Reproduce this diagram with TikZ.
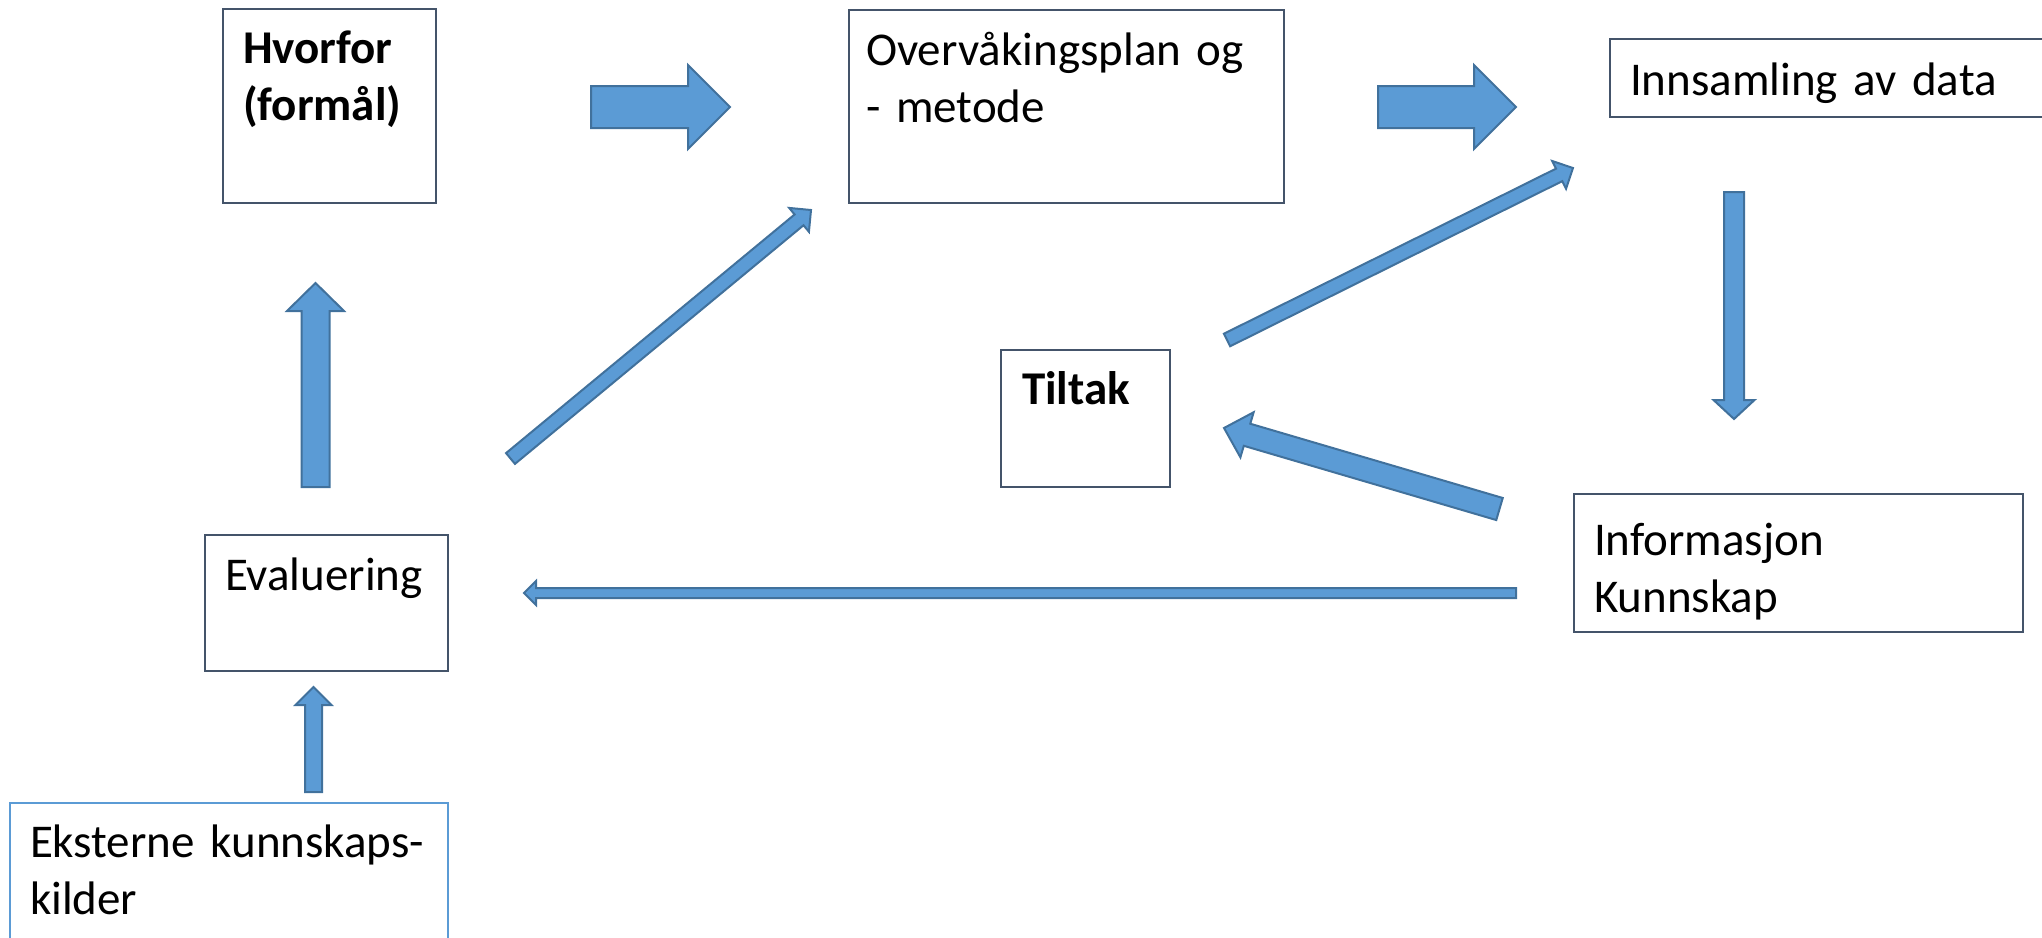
\documentclass[tikz,border=0pt]{standalone}
\usepackage{fontspec}
\setmainfont{Carlito}
\usetikzlibrary{calc}
\definecolor{arrowblue}{HTML}{5B9BD5}
\definecolor{arrowedge}{HTML}{41719C}
\definecolor{boxedge}{HTML}{44546A}
\tikzstyle{box} = [rectangle, draw=boxedge, line width=2pt, inner xsep=20pt, inner ysep=0pt, outer sep=0pt, anchor=north west, align=left, font=\fontsize{47}{57}\selectfont]
\tikzstyle{barrow} = [fill=arrowblue, draw=arrowedge, line width=2pt, line join=miter]
% block arrow: from, to, half shaft, half head, head length
\newcommand{\blockarrow}[5]{%
  \path[barrow] let \p1=($(#2)-(#1)$), \n1={atan2(\y1,\x1)} in
    ($(#1)+(\n1+90:#3)$) -- ($(#2)+(\n1:-#5)+(\n1+90:#3)$) -- ($(#2)+(\n1:-#5)+(\n1+90:#4)$) -- (#2)
    -- ($(#2)+(\n1:-#5)+(\n1-90:#4)$) -- ($(#2)+(\n1:-#5)+(\n1-90:#3)$) -- ($(#1)+(\n1-90:#3)$) -- cycle;}

\begin{document}
\begin{tikzpicture}[x=1pt, y=1pt]
\useasboundingbox (0,0) rectangle (2042,-937);

% Boxes
\node (hvorfor) [box, text width=173pt, text height=54pt, text depth=140pt] at (223,-9) {\textbf{Hvorfor}\\\textbf{(formål)}};

\node (overvak) [box, inner xsep=17pt, text width=401pt, text height=55pt, text depth=138pt] at (849,-10) {Overvåkingsplan og\\- metode};

\node (innsamling) [box, text width=420pt, text height=56pt, text depth=22pt] at (1610,-39) {Innsamling av data};

\node (tiltak) [box, inner xsep=21pt, text width=127pt, text height=54pt, text depth=83pt] at (1001,-350) {\textbf{Tiltak}};

\node (informasjon) [box, text width=409pt, text height=61pt, text depth=77pt] at (1574,-494) {Informasjon\\Kunnskap};

\node (evaluering) [box, text width=203pt, text height=55pt, text depth=81pt] at (205,-535) {Evaluering};

\node (eksterne) [box, draw=arrowblue, text width=398pt, text height=54pt, text depth=120pt] at (10,-803) {Eksterne kunnskaps-\\kilder};

% Arrow ends
\coordinate (hvorforR) at (591,-107);
\coordinate (overvakL) at (730,-107);
\coordinate (overvakR) at (1378,-107);
\coordinate (innsamlingL) at (1516,-107);
\coordinate (innsamlingB) at (1734,-192);
\coordinate (informasjonT) at (1734,-419);
\coordinate (informasjonL) at (1499.5,-509);
\coordinate (tiltakR) at (1224,-428);
\coordinate (informasjonW) at (1516,-593);
\coordinate (evalueringR) at (524,-593);
\coordinate (evalueringT) at (315.5,-487);
\coordinate (hvorforB) at (315.5,-283);
\coordinate (evalueringNE) at (510.5,-458.5);
\coordinate (overvakSW) at (811,-210);
\coordinate (tiltakNE) at (1227,-340);
\coordinate (innsamlingSW) at (1573,-168);
\coordinate (eksterneT) at (313.5,-792);
\coordinate (evalueringB) at (313.5,-687);

% Arrows
\blockarrow{hvorforR}{overvakL}{21}{42}{42}
\blockarrow{overvakR}{innsamlingL}{21}{42}{42}
\blockarrow{innsamlingB}{informasjonT}{10}{20.5}{19}
\blockarrow{informasjonL}{tiltakR}{11.5}{23.5}{24}
\blockarrow{informasjonW}{evalueringR}{5}{12}{12}
\blockarrow{evalueringT}{hvorforB}{14}{28.5}{28}
\blockarrow{evalueringNE}{overvakSW}{7}{15.5}{15.5}
\blockarrow{tiltakNE}{innsamlingSW}{7}{15.5}{15.5}
\blockarrow{eksterneT}{evalueringB}{8.5}{18}{18}

\end{tikzpicture}
\end{document}
